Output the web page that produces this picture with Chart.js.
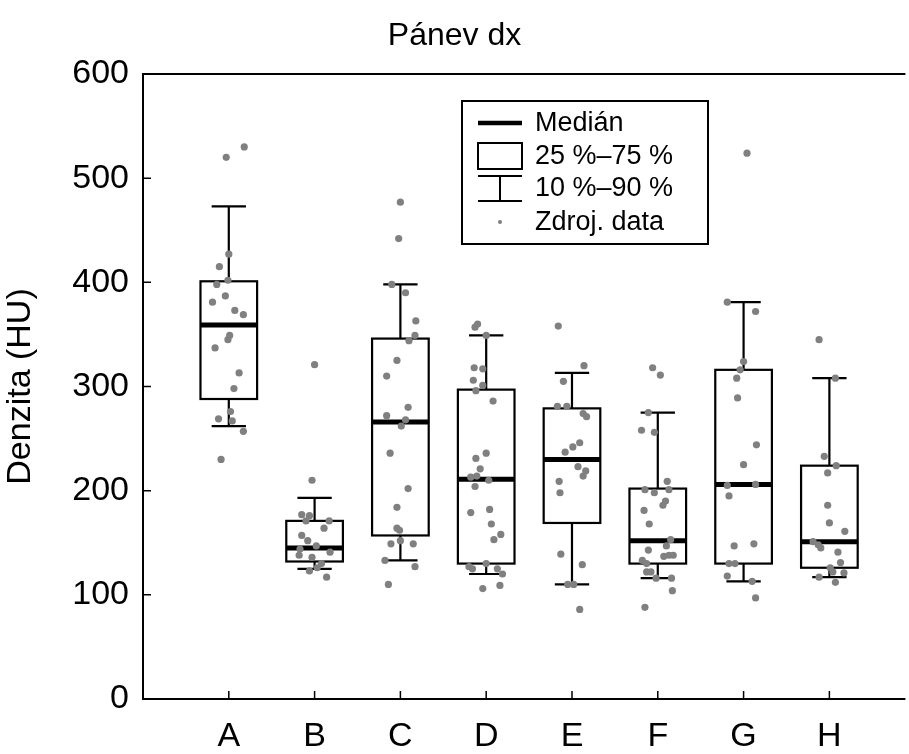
<!DOCTYPE html>
<html><head><meta charset="utf-8">
<script src="https://cdn.jsdelivr.net/npm/chart.js@4/dist/chart.umd.min.js"></script>
<style>html,body{margin:0;padding:0;background:#fff;overflow:hidden;}</style>
</head><body>
<canvas id="c" width="909" height="754" style="display:block;width:909px;height:754px"></canvas>
<script>
const categories = ['A','B','C','D','E','F','G','H'];
const yTicks = [0,100,200,300,400,500,600];

// box statistics (HU)
const p10    = [262,125,133,120,110,116,113,117];
const q1     = [288,132,157,130,169,130,130,126];
const median = [359,145,266,211,230,152,206,151];
const q3     = [401,171,346,297,279,202,316,224];
const p90    = [473,193,398,349,313,275,381,308];

// raw data (HU) and horizontal jitter (category units)
const rawA = [530,520,427,415,402,398,387,381,373,369,349,345,337,313,298,276,269,267,257,230];
const jitA = [0.18,-0.03,0,-0.11,-0.01,-0.14,-0.04,-0.19,0.07,0.17,0.01,-0.01,-0.16,0.12,0.06,0.02,-0.12,0.04,0.17,-0.09];
const rawB = [321,210,177,176,171,171,164,157,152,147,144,141,138,136,130,126,123,117];
const jitB = [0,-0.03,-0.15,-0.06,-0.10,0.17,0.11,-0.15,-0.08,0.02,-0.17,0.18,-0.18,-0.03,0.08,0.03,-0.06,0.14];
const rawC = [477,442,398,390,363,349,344,325,310,280,272,268,262,236,202,184,164,162,152,149,149,133,127,110];
const jitC = [0,-0.02,-0.10,0.06,0.18,0.17,0.10,-0.04,-0.16,0.09,-0.16,0.06,0.01,-0.12,0.09,-0.04,-0.04,-0.01,0,-0.11,0.15,-0.18,0.17,-0.14];
const rawD = [360,357,349,318,317,306,301,296,286,236,231,221,213,214,210,204,182,179,168,158,153,130,127,125,125,120,109,106];
const jitD = [-0.10,-0.13,0,-0.14,-0.04,-0.15,-0.04,-0.12,0.08,0,-0.12,-0.07,-0.18,-0.11,0.03,-0.13,0.04,-0.18,0.06,0.17,0.09,0,-0.20,-0.16,0.13,0.19,0.16,-0.04];
const rawE = [358,320,305,281,281,274,271,246,242,237,223,219,214,209,198,139,129,110,110,86];
const jitE = [-0.16,0.14,-0.10,-0.17,-0.06,0.13,0.17,0.09,0.01,-0.08,0.07,0.16,0.13,-0.15,-0.14,-0.13,0.12,-0.05,0.02,0.09];
const rawF = [318,311,275,258,256,209,201,198,201,190,186,181,168,153,147,143,137,138,138,133,130,122,122,116,116,104,88];
const jitF = [-0.06,0.03,-0.11,-0.19,-0.04,0.11,-0.15,-0.04,0.13,0.09,0.06,-0.16,-0.10,0.15,0.10,-0.11,0.07,0.13,0.18,-0.18,-0.13,-0.13,-0.08,-0.02,0.16,0.17,-0.15];
const rawG = [524,381,372,324,316,308,289,244,225,205,206,195,147,149,130,130,118,113,97];
const jitG = [0.04,-0.19,0.14,0,-0.04,-0.08,-0.07,0.15,0,-0.19,0.14,-0.17,-0.11,0.12,-0.17,-0.10,-0.19,0.10,0.14];
const rawH = [345,308,233,224,217,186,169,161,151,148,145,141,131,126,122,121,117,112];
const jitH = [-0.12,0.07,-0.06,0.08,-0.02,-0.02,0,0.18,-0.19,-0.13,-0.10,0.10,0.13,0.01,0.04,0.17,-0.12,0.07];

const rawAll = [rawA,rawB,rawC,rawD,rawE,rawF,rawG,rawH];
const jitAll = [jitA,jitB,jitC,jitD,jitE,jitF,jitG,jitH];

const points = [];
rawAll.forEach((arr,i)=>arr.forEach((v,k)=>points.push({x:i+1+jitAll[i][k], y:v})));

const FONT = "'Liberation Sans', Arial, Helvetica, sans-serif";
const BOX_HALF = 0.33, CAP_HALF = 0.20;

const boxPlugin = {
  id:'boxes',
  beforeDatasetsDraw(chart){
    const {ctx, scales:{x,y}} = chart;
    ctx.save();
    ctx.strokeStyle = '#000';
    categories.forEach((c,i)=>{
      const v = i+1;
      const cx = x.getPixelForValue(v);
      const l = x.getPixelForValue(v-BOX_HALF), r = x.getPixelForValue(v+BOX_HALF);
      const cl = x.getPixelForValue(v-CAP_HALF), cr = x.getPixelForValue(v+CAP_HALF);
      const y10 = y.getPixelForValue(p10[i]), y25 = y.getPixelForValue(q1[i]);
      const y50 = y.getPixelForValue(median[i]), y75 = y.getPixelForValue(q3[i]);
      const y90 = y.getPixelForValue(p90[i]);
      ctx.lineWidth = 2.2;
      ctx.beginPath();
      ctx.moveTo(cx,y75); ctx.lineTo(cx,y90);
      ctx.moveTo(cl,y90); ctx.lineTo(cr,y90);
      ctx.moveTo(cx,y25); ctx.lineTo(cx,y10);
      ctx.moveTo(cl,y10); ctx.lineTo(cr,y10);
      ctx.stroke();
      ctx.fillStyle = '#fff';
      ctx.fillRect(l,y75,r-l,y25-y75);
      ctx.strokeRect(l,y75,r-l,y25-y75);
      ctx.lineWidth = 5;
      ctx.beginPath(); ctx.moveTo(l,y50); ctx.lineTo(r,y50); ctx.stroke();
    });
    ctx.restore();
  },
  afterDraw(chart){
    const {ctx, scales:{x,y}, chartArea:a} = chart;
    ctx.save();
    ctx.strokeStyle = '#000';
    ctx.lineWidth = 2;
    ctx.beginPath();
    ctx.moveTo(a.right, a.top); ctx.lineTo(a.left, a.top); ctx.lineTo(a.left, a.bottom); ctx.lineTo(a.right, a.bottom);
    ctx.stroke();
    ctx.lineWidth = 1.5;
    ctx.beginPath();
    x.ticks.forEach(t=>{ const px = x.getPixelForValue(t.value); ctx.moveTo(px,a.bottom); ctx.lineTo(px,a.bottom-8); });
    y.ticks.forEach(t=>{ const py = y.getPixelForValue(t.value); ctx.moveTo(a.left,py); ctx.lineTo(a.left+8,py); });
    ctx.stroke();

    // legend
    const L = {x:462, y:101, w:246, h:143};
    ctx.lineWidth = 2;
    ctx.fillStyle = '#fff';
    ctx.fillRect(L.x,L.y,L.w,L.h);
    ctx.strokeRect(L.x,L.y,L.w,L.h);
    const sx0 = 478, sx1 = 522, smid = 500, tx = 535;
    const rows = [123,156,188,222];
    ctx.lineWidth = 4.5;
    ctx.beginPath(); ctx.moveTo(sx0,rows[0]); ctx.lineTo(sx1,rows[0]); ctx.stroke();
    ctx.lineWidth = 2;
    ctx.strokeRect(sx0,143,sx1-sx0,26);
    ctx.beginPath();
    ctx.moveTo(sx0,176); ctx.lineTo(sx1,176);
    ctx.moveTo(smid,176); ctx.lineTo(smid,201);
    ctx.moveTo(sx0,201); ctx.lineTo(sx1,201);
    ctx.stroke();
    ctx.fillStyle = '#808080';
    ctx.beginPath(); ctx.arc(smid,rows[3],2,0,Math.PI*2); ctx.fill();
    ctx.fillStyle = '#000';
    ctx.font = `27px ${FONT}`;
    ctx.textBaseline = 'middle';
    ctx.textAlign = 'left';
    const labels = ['Medián','25 %–75 %','10 %–90 %','Zdroj. data'];
    labels.forEach((s,k)=>ctx.fillText(s,tx,rows[k]+1));
    ctx.restore();
  }
};

new Chart(document.getElementById('c'), {
  type:'scatter',
  data:{ datasets:[{ label:'Zdroj. data', data:points, backgroundColor:'#808080', borderWidth:0, pointRadius:3.6, pointHoverRadius:3.6 }]},
  options:{
    responsive:false, animation:false, devicePixelRatio:1,
    layout:{ padding:{left:0,right:0,top:0,bottom:0} },
    plugins:{
      legend:{display:false}, tooltip:{enabled:false},
      title:{ display:true, text:'Pánev dx', color:'#000', font:{family:FONT, size:32, weight:'normal'}, padding:{top:17,bottom:18.6} }
    },
    scales:{
      x:{ type:'linear', min:0, max:8.886,
          afterBuildTicks(s){ s.ticks = categories.map((c,i)=>({value:i+1})); },
          afterFit(s){ s.height = 55; },
          grid:{display:false, drawTicks:false}, border:{display:false},
          ticks:{ color:'#000', padding:17, autoSkip:false, maxRotation:0, font:{family:FONT,size:34},
                  callback:(v)=>categories[Math.round(v)-1] ?? '' } },
      y:{ type:'linear', min:0, max:600,
          afterBuildTicks(s){ s.ticks = yTicks.map(v=>({value:v})); },
          afterFit(s){ s.width = 143; },
          grid:{display:false, drawTicks:false}, border:{display:false},
          title:{ display:true, text:'Denzita (HU)', color:'#000', font:{family:FONT,size:34}, padding:{top:0,bottom:0} },
          ticks:{ color:'#000', padding:14, font:{family:FONT,size:34} } }
    }
  },
  plugins:[boxPlugin]
});
</script>
</body></html>
